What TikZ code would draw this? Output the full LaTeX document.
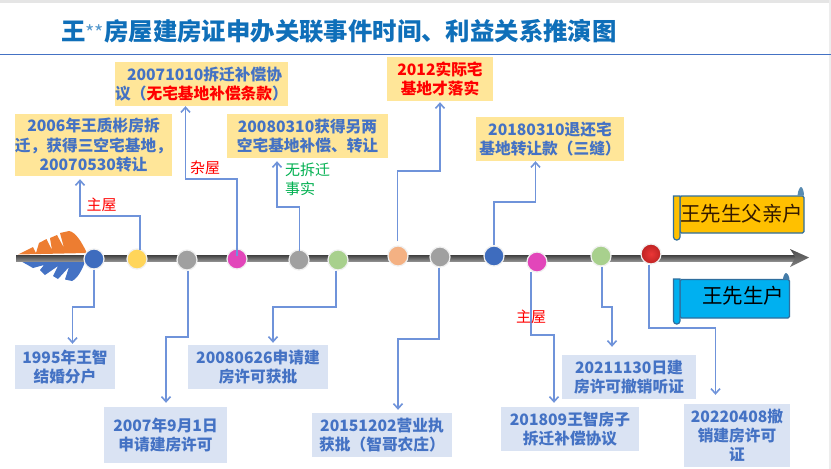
\documentclass[tikz,border=0pt]{standalone}
\usepackage{fontspec}
\setmainfont{Noto Sans CJK SC}
\usetikzlibrary{arrows.meta,calc}
\definecolor{txtblue}{HTML}{4472C4}
\definecolor{titleblue}{HTML}{0F6FB9}
\definecolor{conn}{HTML}{6F93DA}
\definecolor{ybox}{HTML}{FFE699}
\definecolor{bbox}{HTML}{DAE3F3}
\definecolor{rule}{HTML}{4472C4}
\definecolor{scrollline}{HTML}{2F6E9E}
\definecolor{green2}{HTML}{00B050}
\tikzset{
  ybx/.style={fill=ybox,inner sep=0pt,align=center,text=txtblue,font=\bfseries\fontsize{15.7}{19.3}\selectfont},
  bbx/.style={fill=bbox,inner sep=0pt,align=center,text=txtblue,font=\bfseries\fontsize{15.7}{19.3}\selectfont},
  dotn/.style={circle,minimum size=20pt,inner sep=0pt,draw=white!88!gray,line width=1.2pt},
  cn/.style={draw=conn,line width=1.6pt,-{Straight Barb[length=5pt,width=9pt]}},
  lab/.style={inner sep=0pt,font=\fontsize{15}{18}\selectfont},
  scrollshape/.style={draw=scrollline,line width=1.2pt,rounded corners=1.5pt},
  scrolltext/.style={inner sep=0pt,font=\fontsize{20.5}{24}\selectfont,text=black}
}
\begin{document}
\begin{tikzpicture}[x=1pt,y=-1pt]
\useasboundingbox (0,0) rectangle (831,469);
\fill[white] (0,0) rectangle (831,469);
\fill[black!10] (0,0) rectangle (831,2.5);
\fill[black!7] (829,0) rectangle (831,469);

% title
\node[anchor=west,inner sep=0pt,text=titleblue,font=\bfseries\fontsize{24.4}{28}\selectfont] (ttl) at (61,31.5)
  {王{\mdseries\fontsize{20}{20}\selectfont\textcolor{titleblue!70}{**}}房屋建房证申办关联事件时间、利益关系推演图};
\draw[rule,line width=1pt] (0,54) -- (831,54);

% feather
\fill[fill={rgb,255:red,237;green,125;blue,49}] (18,254.5) -- (33,247) -- (36,253) -- (39,243) -- (46.5,239) -- (52,250) -- (50,238) -- (57,235) -- (64,248) -- (60,233) -- (69,231)
  .. controls (76,232) and (82,243) .. (87,253) -- cycle;
\fill[fill={rgb,255:red,68;green,114;blue,196}] (18,259.5) -- (86,259.5)
  .. controls (82,270) and (78,278) .. (72,281) -- (65,279.5) -- (69,267) -- (58,279) -- (53,276) -- (58,266) -- (45,275) -- (40,270) -- (44,265) -- (33,268) -- cycle;

% timeline
\shade[top color=black!75,bottom color=black!45] (16,255) rectangle (796,261);
\shade[top color=black!70,bottom color=black!50] (790,249) -- (809,257.5) -- (790,267) -- (795.5,257.5) -- cycle;

% boxes
\node[ybx,minimum width=155pt,minimum height=62pt] (a) at (93.5,145) {2006年王质彬房拆\\迁，获得三空宅基地，\\20070530转让};
\node[ybx,minimum width=173pt,minimum height=44pt] (b) at (201.5,84) {\hspace*{6pt}20071010拆迁补偿协\\议（\textcolor{red}{无宅基地补偿条款}）};
\node[ybx,minimum width=161pt,minimum height=44pt] (c) at (307.5,136) {20080310获得另两\\空宅基地补偿、转让};
\node[ybx,minimum width=106pt,minimum height=44pt,text=red] (d) at (440,79) {2012实际宅\\基地才落实};
\node[ybx,minimum width=148pt,minimum height=44pt] (e) at (550,139) {20180310退还宅\\基地转让款（三缝）};

\node[bbx,minimum width=100pt,minimum height=44pt] (f) at (65,367) {1995年王智\\结婚分户};
\node[bbx,minimum width=123pt,minimum height=56pt] (g) at (165.5,435) {2007年9月1日\\申请建房许可};
\node[bbx,minimum width=140pt,minimum height=44pt] (h) at (258,367) {20080626申请建\\房许可获批};
\node[bbx,minimum width=140pt,minimum height=44pt] (i) at (382,435) {20151202营业执\\获批（智哥农庄）};
\node[bbx,minimum width=138pt,minimum height=44pt] (j) at (570,429) {201809王智房子\\拆迁补偿协议};
\node[bbx,minimum width=134pt,minimum height=44pt] (k) at (629,377) {20211130日建\\房许可撤销听证};
\node[bbx,minimum width=106pt,minimum height=63pt] (l) at (737,435.5) {20220408撤\\销建房许可\\证};

% dots
\node[dotn,fill={rgb,255:red,62;green,108;blue,190}] (n1) at (94,259) {};
\node[dotn,fill={rgb,255:red,255;green,213;blue,90}] (n2) at (137,259) {};
\node[dotn,fill={rgb,255:red,160;green,160;blue,160}] (n3) at (187,260) {};
\node[dotn,fill={rgb,255:red,226;green,70;blue,186}] (n4) at (237,259) {};
\node[dotn,fill={rgb,255:red,160;green,160;blue,160}] (n5) at (299,260) {};
\node[dotn,fill={rgb,255:red,168;green,208;blue,141}] (n6) at (338,260) {};
\node[dotn,fill={rgb,255:red,244;green,177;blue,131}] (n7) at (398,256) {};
\node[dotn,fill={rgb,255:red,160;green,160;blue,160}] (n8) at (440,257) {};
\node[dotn,fill={rgb,255:red,62;green,108;blue,190}] (n9) at (494,256) {};
\node[dotn,fill={rgb,255:red,226;green,70;blue,186}] (n10) at (537,262) {};
\node[dotn,fill={rgb,255:red,168;green,208;blue,141}] (n11) at (601,256) {};
\node[dotn,inner color={rgb,255:red,235;green,55;blue,55},outer color={rgb,255:red,190;green,35;blue,35}] (n12) at (651,254) {};

% connectors up
\draw[cn] ([xshift=3pt,yshift=-2pt]n2.north) -- (140,216) -- (80,216) -- ([yshift=-3pt]a.south -| 80,0);
\draw[cn] ([yshift=-8pt]n4.north) -- (237,179) -- (185.5,179) -- (b.south -| 185.5,0);
\draw[cn] ([xshift=0.5pt,yshift=-2pt]n5.north) -- (299.5,207) -- (277,207) -- ([yshift=-3pt]c.south -| 277,0);
\draw[cn] ([xshift=-0.5pt,yshift=4pt]n7.north) -- (397.5,171) -- (440,171) -- ([yshift=-1pt]d.south -| 440,0);
\draw[cn] (n9.north) -- (494,202) -- (535.5,202) -- (e.south -| 535.5,0);
% connectors down
\draw[cn] (n1.south) -- (94,307) -- (72.5,307) -- ([yshift=1pt]f.north -| 72.5,0);
\draw[cn] ([xshift=1pt]n3.south) -- (188,337) -- (166,337) -- ([yshift=4pt]g.north -| 166,0);
\draw[cn] ([xshift=-2pt]n6.south) -- (336,307) -- (273,307) -- ([yshift=2pt]h.north -| 273,0);
\draw[cn] ([xshift=-1pt]n8.south) -- (439,339) -- (398,339) -- ([yshift=3pt]i.north -| 398,0);
\draw[cn] ([xshift=-6pt,yshift=1pt]n10.south) -- (531,335) -- (554,335) -- ([yshift=4pt]j.north -| 554,0);
\draw[cn] ([xshift=1pt]n11.south) -- (602,307) -- (612,307) -- ([yshift=8pt]k.north -| 612,0);
\draw[cn] ([xshift=-2pt]n12.south) -- (649,328) -- (715.5,328) -- ([yshift=9pt]l.north -| 715.5,0);

% labels
\node[lab,text=red] (lb1) at (101.5,204.5) {主屋};
\node[lab,text=red] (lb2) at (205,168) {杂屋};
\node[lab,text=green2,align=left,anchor=north west,font=\fontsize{15}{19}\selectfont] (lb3) at (285,163) {无拆迁\\事实};
\node[lab,text=red] (lb4) at (531,317) {主屋};

% scroll yellow
\draw[scrollshape,fill={rgb,255:red,255;green,192;blue,0}] (680,196) -- (804,196) -- (804,233) -- (680,233) -- cycle;
\draw[scrollshape,fill={rgb,255:red,255;green,192;blue,0},rounded corners=3pt] (673.5,199) .. controls (673.5,196) and (680,196) .. (680,199) -- (680,240) -- (673.5,240) -- cycle;
\fill[scrollline!80] (797.5,195.5) .. controls (798,190) and (800,187) .. (801,187) .. controls (802,187) and (804,190) .. (804,195.5) -- cycle;
\node[scrolltext,text=black!80!orange] (s1) at (741.5,213.5) {王先生父亲户};

% scroll blue
\draw[scrollshape,fill={rgb,255:red,0;green,176;blue,240}] (680,279.5) -- (789.5,279.5) -- (789.5,318) -- (680,318) -- cycle;
\draw[scrollshape,fill={rgb,255:red,0;green,176;blue,240},rounded corners=3pt] (673.5,282) .. controls (673.5,279) and (680,279) .. (680,282) -- (680,324) -- (673.5,324) -- cycle;
\fill[scrollline!90] (783,279.5) .. controls (783,276) and (785,273) .. (786,273) .. controls (787,273) and (789.5,276) .. (789.5,279.5) -- cycle;
\node[scrolltext] (s2) at (743,296) {王先生户};
\end{tikzpicture}
\end{document}
